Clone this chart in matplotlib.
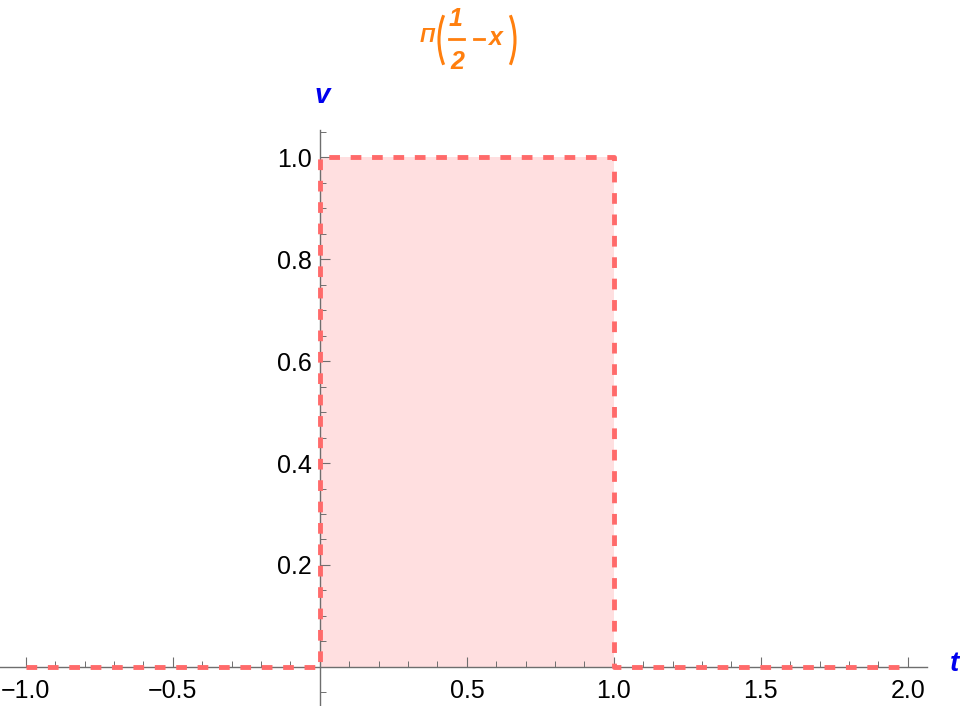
import matplotlib
matplotlib.use("Agg")
import matplotlib.pyplot as plt
from matplotlib.ticker import MultipleLocator, FuncFormatter
from matplotlib.patches import Arc
from matplotlib.lines import Line2D

# data: rectangle function Π(1/2 - t)
t_points = [-1.0, 0.0, 0.0, 1.0, 1.0, 2.0]
v_values = [0.0, 0.0, 1.0, 1.0, 0.0, 0.0]
fill_t = [0.0, 1.0]
fill_v = [1.0, 1.0]
x_major = [-1.0, -0.5, 0.5, 1.0, 1.5, 2.0]
y_major = [0.2, 0.4, 0.6, 0.8, 1.0]

plt.rcParams['font.family'] = ['Liberation Sans', 'DejaVu Sans']

W, H = 960, 706
fig = plt.figure(figsize=(W / 100, H / 100), dpi=100)
ax = fig.add_axes([0.0, 0.0, 927 / W, (H - 130) / H])
ax.set_xlim(-1.088, 2.065)
ax.set_ylim(-0.0765, 1.053)

line_col = '#ff6a6a'
ax.fill_between(fill_t, 0, fill_v, color='#ffdfe0', lw=0, zorder=1)
ax.plot(t_points, v_values, color=line_col, lw=3.5, dashes=(2.2, 2.2),
        solid_capstyle='butt', dash_capstyle='butt', zorder=3, clip_on=False)

for s in ['top', 'right']:
    ax.spines[s].set_visible(False)
ax.spines['left'].set_position(('data', 0))
ax.spines['bottom'].set_position(('data', 0))
for s in ['left', 'bottom']:
    ax.spines[s].set_color('#6e6e6e')
    ax.spines[s].set_linewidth(1.0)

ax.set_xticks(x_major)
ax.set_yticks(y_major)
ax.xaxis.set_minor_locator(MultipleLocator(0.1))
ax.yaxis.set_minor_locator(MultipleLocator(0.05))
fmt = FuncFormatter(lambda v, p: ('%.1f' % v).replace('-', '\u2212'))
ax.xaxis.set_major_formatter(fmt)
ax.yaxis.set_major_formatter(fmt)
ax.tick_params(which='major', direction='in', length=7.2, width=0.8,
               color='#6e6e6e', labelsize=18, labelcolor='black', pad=6)
ax.tick_params(which='minor', direction='in', length=4.3, width=0.7,
               color='#6e6e6e')
ax.tick_params(axis='x', which='major', pad=9)

# axis labels
fig.text(322 / W, 1 - 96 / H, 'v', color='#0000ee', fontsize=20,
         fontweight='bold', fontstyle='italic', ha='center', va='center')
fig.text(954 / W, 1 - 664 / H, 't', color='#0000ee', fontsize=20,
         fontweight='bold', fontstyle='italic', ha='center', va='center')

# title  Π(1/2 − x)
tc = '#ff7f0e'
kw = dict(color=tc, fontweight='bold', fontstyle='italic', ha='center',
          va='center')
def fx(px):
    return px / W
def fy(py):
    return 1 - py / H
fig.text(fx(427), fy(37), 'Π', fontsize=15, **kw)
fig.text(fx(456), fy(19), '1', fontsize=18, **kw)
fig.text(fx(457), fy(62), '2', fontsize=18, **kw)
fig.add_artist(Line2D([fx(449), fx(464)], [fy(39), fy(39)], color=tc, lw=2.0))
fig.add_artist(Line2D([fx(474), fx(484)], [fy(39), fy(39)], color=tc, lw=2.0))
fig.text(fx(495), fy(38), 'x', fontsize=18, **kw)
# parentheses as arcs
r = 68
for cx, t1, t2 in [(439 + r, 152, 208), (515 - r, -28, 28)]:
    fig.add_artist(Arc((fx(cx), fy(40)), 2 * r / W, 2 * r / H,
                       theta1=t1, theta2=t2, color=tc, lw=2.2,
                       transform=fig.transFigure))

fig.savefig('out.png', dpi=100)
